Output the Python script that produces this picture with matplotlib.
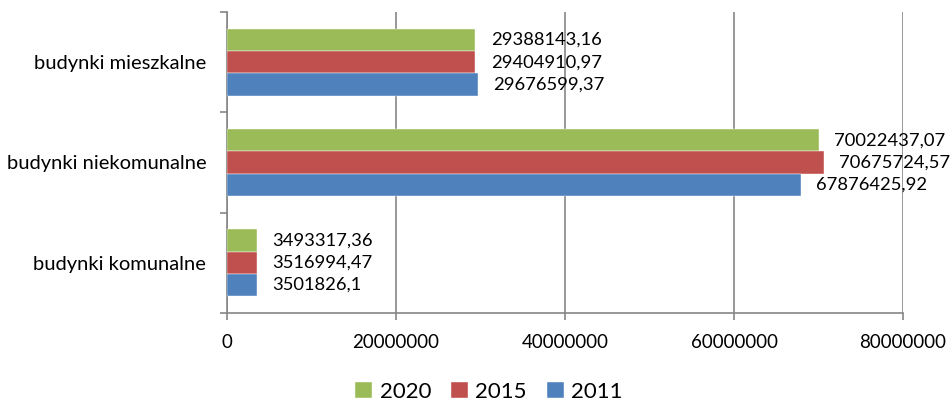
import matplotlib
matplotlib.use("Agg")
import matplotlib.pyplot as plt
import numpy as np

categories = ["budynki komunalne", "budynki niekomunalne", "budynki mieszkalne"]
series_names = ["2020", "2015", "2011"]
v2020 = [3493317.36, 70022437.07, 29388143.16]
v2015 = [3516994.47, 70675724.57, 29404910.97]
v2011 = [3501826.10, 67876425.92, 29676599.37]
labels2020 = ["3493317,36", "70022437,07", "29388143,16"]
labels2015 = ["3516994,47", "70675724,57", "29404910,97"]
labels2011 = ["3501826,1", "67876425,92", "29676599,37"]
colors = ["#9BBB59", "#C0504D", "#4F81BD"]
xticks = [0, 20000000, 40000000, 60000000, 80000000]

plt.rcParams['font.family'] = ['Lato', 'DejaVu Sans']

fig = plt.figure(figsize=(9.52, 4.05), dpi=100)
ax = fig.add_axes([227/952, 1-313/405, (903-227)/952, (313-12)/405])

y = np.arange(len(categories))
h = 0.222
offsets = [h, 0, -h]
vals = [v2020, v2015, v2011]
labs = [labels2020, labels2015, labels2011]
for name, v, lab, off, c in zip(series_names, vals, labs, offsets, colors):
    bars = ax.barh(y + off, v, height=h, color=c, label=name, zorder=3,
                   edgecolor='white', linewidth=0.3)
    ax.bar_label(bars, labels=lab, padding=11, fontsize=13.2, color='black')

ax.set_xlim(0, 80000000)
ax.set_ylim(-0.5, 2.5)
ax.set_xticks(xticks)
ax.set_xticklabels([str(t) for t in xticks], fontsize=13.5)
ax.set_yticks(y)
ax.set_yticklabels(categories, fontsize=14.5)
ax.tick_params(axis='y', length=0, pad=15)
ax.set_yticks([-0.5, 0.5, 1.5, 2.5], minor=True)
ax.tick_params(axis='y', which='minor', length=5, color='#868686', width=1.2)
ax.tick_params(axis='x', length=5, color='#868686', width=1.2, pad=10)
ax.grid(axis='x', color='#868686', linewidth=1.2, zorder=0)
for s in ['top', 'right']:
    ax.spines[s].set_visible(False)
for s in ['left', 'bottom']:
    ax.spines[s].set_color('#868686')
    ax.spines[s].set_linewidth(1.2)

handles, leglabels = ax.get_legend_handles_labels()
fig.legend(handles, leglabels, loc='center', bbox_to_anchor=(489/952, 1-392/405),
           ncol=3, frameon=False, fontsize=16, handlelength=0.75, handleheight=0.75,
           handletextpad=0.35, columnspacing=0.9)

fig.savefig("out.png", dpi=100)
